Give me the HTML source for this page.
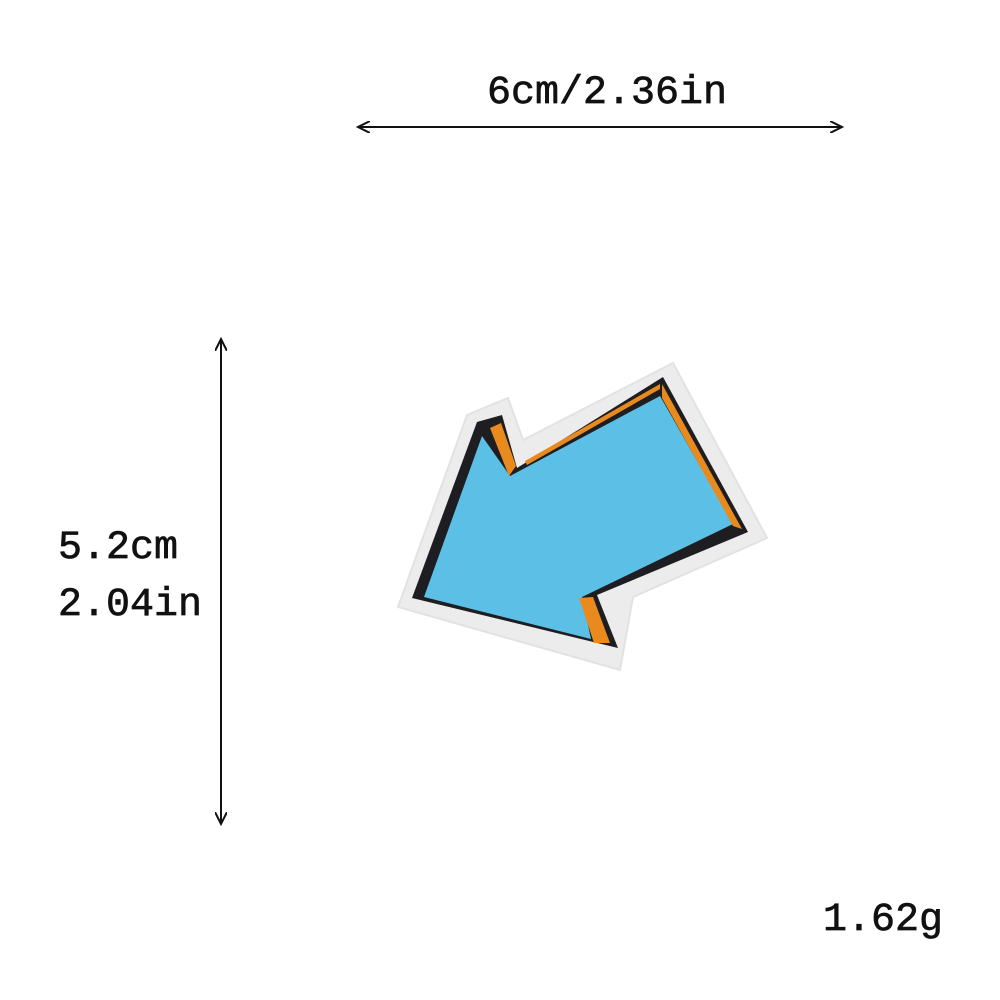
<!DOCTYPE html>
<html><head><meta charset="utf-8"><style>
html,body{margin:0;padding:0;background:#fff;width:1000px;height:1000px;overflow:hidden}
text{font-family:"Liberation Mono","DejaVu Sans Mono",monospace;fill:#111;stroke:#111;stroke-width:0.7}
</style></head><body>
<svg width="1000" height="1000" viewBox="0 0 1000 1000">
<defs>
<marker id="ah" markerWidth="14" markerHeight="12" refX="12" refY="6" orient="auto-start-reverse" markerUnits="userSpaceOnUse">
<path d="M0,0 L12,6 L0,12" fill="none" stroke="#111" stroke-width="2"/>
</marker>
</defs>
<g>
<text x="607" y="103" font-size="40" text-anchor="middle">6cm/2.36in</text>
<line x1="358" y1="127" x2="842" y2="127" stroke="#111" stroke-width="2" marker-start="url(#ah)" marker-end="url(#ah)"/>
</g>
<g>
<line x1="221" y1="339" x2="221" y2="824" stroke="#111" stroke-width="2" marker-start="url(#ah)" marker-end="url(#ah)"/>
<text x="58" y="558" font-size="40">5.2cm</text>
<text x="58" y="615" font-size="40">2.04in</text>
</g>
<text x="823" y="930" font-size="40">1.62g</text>
<g>
<polygon points="398,607 467,415 508,398 523,440 673,363 767,538 633,597 620,670" fill="#ececec" stroke="#e2e2e2" stroke-width="2"/>
<polygon points="412,598 477,422 502,415 517,468 663,377 748,532 597,595 618,648" fill="#1e1e22"/>
<polygon points="424,597 482,436 510,476 660,396 733,524 582,597 591,639" fill="#5cc0e6"/>
<polygon points="490,428 501,423 516,466 509,476" fill="#e98a1e"/>
<polygon points="525,461 660,384 660,389 527,465" fill="#e98a1e"/>
<polygon points="662,384 742,529 733,526 662,398" fill="#e98a1e"/>
<polygon points="579,598 593,597 610,643 594,643" fill="#e98a1e"/>
</g>
</svg>
</body></html>
